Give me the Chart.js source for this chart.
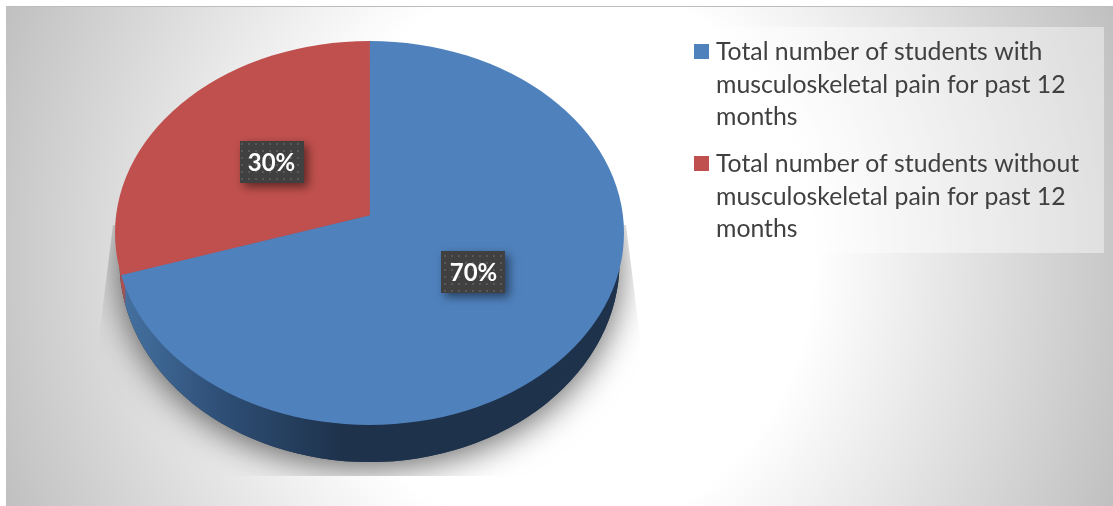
<!DOCTYPE html>
<html><head><meta charset="utf-8">
<style>
html,body{margin:0;padding:0;background:#fff;width:1113px;height:506px;overflow:hidden}
#panel{position:absolute;left:6px;top:6px;width:1107px;height:500px;box-sizing:border-box;border-top:1.5px solid #bdbdbd;
background:radial-gradient(ellipse 660px 727px at 553px 249px,#fff 0%,#fff 38.5%,#c0c0c0 90.6%,#bcbcbc 100%)}
canvas{position:absolute;left:0;top:0}
</style>
<script src="https://cdn.jsdelivr.net/npm/chart.js@4"></script>
</head><body>
<div id="panel"></div>
<canvas id="c" width="1113" height="506"></canvas>
<script>
const categories = [
  ['Total number of students with','musculoskeletal pain for past 12','months'],
  ['Total number of students without','musculoskeletal pain for past 12','months']
];
const shares = [70, 30];
const sliceColors = ['#4f81bd', '#c0504d'];
const labelTexts = ['70%', '30%'];

const face = {rx:254.5, ry:192, dy:18};      // true outline relative to the apex
const stretch = {x:1.5, up:1.0, down:1.11};  // perspective applied to the library's arcs
const side = {rx:250, ry:200, dy:47};

function ellipsePath(ctx,x,y,rx,ry){ctx.beginPath();ctx.ellipse(x,y,rx,ry,0,0,Math.PI*2);}
function dotPattern(ctx){
  const p=document.createElement('canvas');p.width=7;p.height=7;
  const g=p.getContext('2d');g.fillStyle='#404040';g.fillRect(0,0,7,7);
  g.fillStyle='#585858';g.fillRect(3,3,2,2);
  return ctx.createPattern(p,'repeat');
}
const pie3d={
  id:'pie3d',
  beforeDatasetsDraw(chart){
    const ctx=chart.ctx, a=chart.getDatasetMeta(0).data[0], cx=a.x, cy=a.y;
    // legend panel
    ctx.fillStyle='rgba(255,255,255,0.42)';ctx.fillRect(670,27,434,226);
    // drop shadow
    ctx.save();
    ctx.beginPath();ctx.moveTo(113,225);ctx.lineTo(98,345);ctx.lineTo(98,476);ctx.lineTo(641,476);ctx.lineTo(641,345);ctx.lineTo(626,225);ctx.closePath();ctx.clip();
    ctx.shadowColor='rgba(0,0,0,0.6)';ctx.shadowBlur=34;ctx.shadowOffsetY=6;
    ellipsePath(ctx,cx,cy+side.dy,side.rx,side.ry);ctx.fillStyle='#1f334c';ctx.fill();
    ctx.restore();
    // side wall
    const g=ctx.createLinearGradient(115,0,620,0);
    g.addColorStop(0,'#c0504d');g.addColorStop(0.018,'#a9504f');g.addColorStop(0.022,'#44709f');
    g.addColorStop(0.2,'#2f5078');g.addColorStop(0.45,'#1e324b');g.addColorStop(1,'#1e324b');
    ellipsePath(ctx,cx,cy+side.dy,side.rx,side.ry);ctx.fillStyle=g;ctx.fill();
    // upper part of the face
    ctx.save();
    ellipsePath(ctx,cx,cy+face.dy,face.rx,face.ry);ctx.clip();
    ctx.beginPath();ctx.rect(0,0,1113,cy);ctx.clip();
    ctx.translate(cx,cy);ctx.scale(stretch.x,stretch.up);ctx.translate(-cx,-cy);
  },
  afterDatasetsDraw(chart){
    const ctx=chart.ctx, arcs=chart.getDatasetMeta(0).data, cx=arcs[0].x, cy=arcs[0].y;
    ctx.restore();
    // lower part of the face
    ctx.save();
    ellipsePath(ctx,cx,cy+face.dy,face.rx,face.ry);ctx.clip();
    ctx.beginPath();ctx.rect(0,cy,1113,506-cy);ctx.clip();
    ctx.translate(cx,cy);ctx.scale(stretch.x,stretch.down);ctx.translate(-cx,-cy);
    arcs.forEach(a=>a.draw(ctx));
    ctx.restore();
    // data labels
    const pat=dotPattern(ctx);
    arcs.forEach((a,i)=>{
      const m=a.getCenterPoint();
      const x=cx+(m.x-cx)*1.25+3, y=cy+(m.y-cy)*(m.y<cy?0.90:0.97);
      const bx=Math.round(x-32), by=Math.round(y-21);
      ctx.save();
      ctx.shadowColor='rgba(0,0,0,0.5)';ctx.shadowBlur=9;ctx.shadowOffsetX=4;ctx.shadowOffsetY=4;
      ctx.fillStyle='#404040';ctx.fillRect(bx,by,64,42);
      ctx.restore();
      ctx.fillStyle=pat;ctx.fillRect(bx,by,64,42);
      ctx.fillStyle='#fff';ctx.font='bold 24px Lato, sans-serif';ctx.textAlign='center';ctx.textBaseline='middle';
      ctx.fillText(labelTexts[i],x,y+1);
    });
    // legend
    const tops=[51,163];
    ctx.textAlign='left';ctx.textBaseline='middle';ctx.font='24.8px Lato, sans-serif';
    categories.forEach((lines,i)=>{
      ctx.fillStyle=sliceColors[i];ctx.fillRect(694,tops[i]-7,15,15);
      ctx.fillStyle='#404040';
      lines.forEach((t,j)=>ctx.fillText(t,716,tops[i]+1+j*32.6));
    });
  }
};
new Chart(document.getElementById('c'),{
  type:'pie',
  data:{labels:categories.map(l=>l.join(' ')),datasets:[{data:shares,backgroundColor:sliceColors,borderColor:sliceColors,borderWidth:0.6}]},
  options:{
    responsive:false,animation:false,devicePixelRatio:1,
    layout:{padding:{left:0,right:374,top:15,bottom:91}},
    plugins:{legend:{display:false},tooltip:{enabled:false}}
  },
  plugins:[pie3d]
});
</script>
</body></html>
